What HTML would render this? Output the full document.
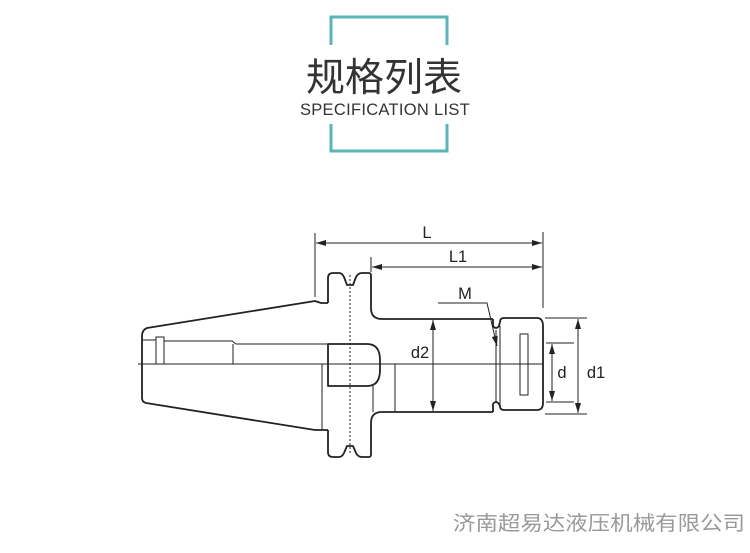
<!DOCTYPE html>
<html><head><meta charset="utf-8"><style>
html,body{margin:0;padding:0;background:#fff;}
body{width:750px;height:553px;overflow:hidden;position:relative;}
svg{position:absolute;left:0;top:0;}
</style></head><body>
<svg width="750" height="553" viewBox="0 0 750 553" xmlns="http://www.w3.org/2000/svg">
<defs>
<marker id="a" viewBox="0 0 10 6" refX="10" refY="3" markerWidth="10" markerHeight="6" orient="auto-start-reverse" markerUnits="userSpaceOnUse"><path d="M0,0 L10,3 L0,6 z" fill="#222"/></marker>
</defs>
<g stroke="#5bb5b8" stroke-width="3" fill="none">
<path d="M331,45 V17 H447 V45"/>
<path d="M331,124 V151 H447 V124"/>
</g>
<text x="384" y="91" text-anchor="middle" font-family="'Liberation Sans','Noto Sans CJK SC',sans-serif" font-size="39" fill="#333">规格列表</text>
<text x="385" y="115" text-anchor="middle" font-family="'Liberation Sans',sans-serif" font-size="16.5" fill="#333" letter-spacing="0.3">SPECIFICATION LIST</text>

<g stroke="#222" stroke-width="1.8" fill="none" stroke-linejoin="round">
<path d="M328,303 L321,303 L315,301 L147,328 Q142,330 142,336 L142,398 Q142,402 146,403 L315,430 L328,430"/>
<path d="M328,303 V278 Q328,273 333,273 L339,273 Q342,273 344,277 L347,285 L353,285 L356,277 Q358,273 362,273 L369,273 Q371,273 371,276 V308 Q371,319 382,319 L493,319"/>
<path d="M328,430 V452 Q328,457 333,457 L339,457 Q342,457 344,453 L347,446 L353,446 L356,453 Q358,457 362,457 L369,457 Q371,457 371,454 V423 Q371,412 382,412 L493,412"/>
<path d="M493,319 L493,326 Q496,330 499,326 L500,322 Q500,318 504,318 L537,318 Q543,318 543,326 L543,403 Q543,410 537,410 L504,410 Q500,410 500,406 L499,404 Q496,400 493,404 L493,412"/>
<line x1="496" y1="330" x2="496" y2="402" stroke-width="1"/>
<line x1="500" y1="326" x2="500" y2="406" stroke-width="1"/>
<rect x="520" y="334" width="8" height="61" stroke-width="1"/>
<path d="M328,344 L367,344 Q380,344 380,360 L380,370 Q380,386 367,386 L328,386 Z"/>
</g>
<g stroke="#222" stroke-width="1" fill="none">
<line x1="138" y1="364" x2="543" y2="364"/>
<line x1="142" y1="340" x2="156" y2="340"/>
<rect x="156" y="337" width="8" height="27"/>
<path d="M164,341 L232,341 L236,344 L328,344"/>
<line x1="233" y1="344" x2="233" y2="364"/>
<line x1="322" y1="364" x2="322" y2="430"/>
<line x1="395" y1="364" x2="395" y2="412"/>
<line x1="373" y1="386" x2="373" y2="412"/>
<line x1="350" y1="275" x2="350" y2="455" stroke-dasharray="2,2"/>
<line x1="315" y1="233" x2="315" y2="297"/>
<line x1="543" y1="232" x2="543" y2="308"/>
<line x1="371" y1="257" x2="371" y2="272"/>
<line x1="316" y1="243" x2="542" y2="243" marker-start="url(#a)" marker-end="url(#a)"/>
<line x1="372" y1="267" x2="542" y2="267" marker-start="url(#a)" marker-end="url(#a)"/>
<path d="M438,303 L487,303 L497,346" marker-end="url(#a)"/>
<line x1="433" y1="320" x2="433" y2="411" marker-start="url(#a)" marker-end="url(#a)"/>
<line x1="546" y1="343" x2="574" y2="343"/>
<line x1="546" y1="402" x2="574" y2="402"/>
<line x1="552" y1="344" x2="552" y2="401" marker-start="url(#a)" marker-end="url(#a)"/>
<line x1="545" y1="318" x2="587" y2="318"/>
<line x1="545" y1="414" x2="587" y2="414"/>
<line x1="578" y1="319" x2="578" y2="413" marker-start="url(#a)" marker-end="url(#a)"/>
</g>
<g font-family="'Liberation Sans',sans-serif" font-size="16.5" fill="#222">
<text x="427" y="238" text-anchor="middle">L</text>
<text x="458" y="262" text-anchor="middle">L1</text>
<text x="465" y="299" text-anchor="middle">M</text>
<text x="420" y="358" text-anchor="middle">d2</text>
<text x="562" y="378" text-anchor="middle">d</text>
<text x="596" y="378" text-anchor="middle">d1</text>
</g>
<text x="745" y="530" text-anchor="end" font-family="'Liberation Sans','Noto Sans CJK SC',sans-serif" font-size="20" fill="#999" textLength="292" lengthAdjust="spacingAndGlyphs">济南超易达液压机械有限公司</text>
</svg>
</body></html>
